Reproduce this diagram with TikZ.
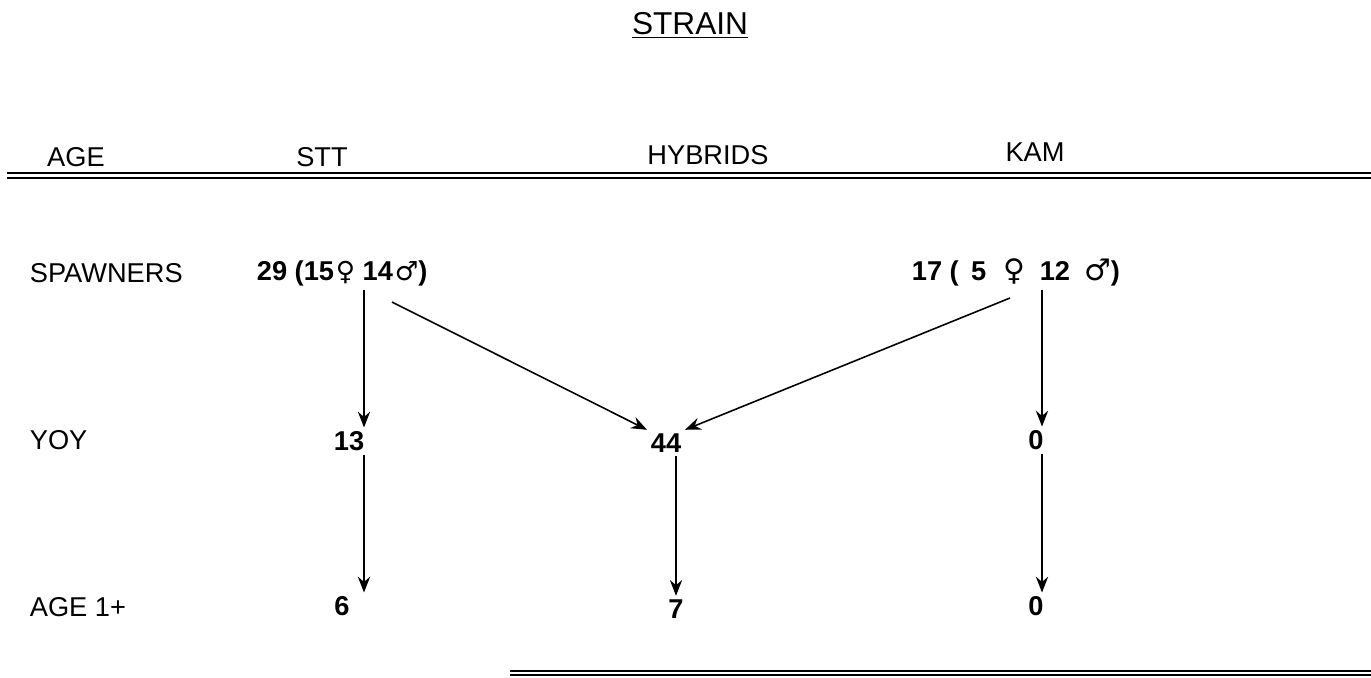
\documentclass[tikz,border=0pt]{standalone}
\usepackage{fontspec}
\setmainfont{Liberation Sans}
\newfontfamily\symfont{DejaVu Sans}
\usetikzlibrary{arrows.meta}
\tikzset{
    lbl/.style={font=\fontsize{15.5}{18}\selectfont, inner sep=2pt},
    num/.style={font=\fontsize{15.5}{18}\selectfont\bfseries, inner sep=2pt},
    arr/.style={-{Stealth[length=9pt, width=7pt, inset=3pt]}, line width=0.9pt},
    dbl/.style={line width=0.8pt}
}
\newcommand{\fem}[1]{{\symfont\mdseries\fontsize{#1}{18}\selectfont ♀}}
\newcommand{\mal}[1]{{\symfont\mdseries\fontsize{#1}{18}\selectfont ♂}}
\begin{document}
\begin{tikzpicture}[x=0.02cm, y=-0.02cm]
    \useasboundingbox (0,0) rectangle (1371,677);
    % heading
    \node[lbl, inner sep=0pt, font=\fontsize{18}{20}\selectfont] (strain) at (690,25) {\underline{STRAIN}};
    \node[lbl] (age) at (76,157) {AGE};
    \node[lbl] (stt) at (322,157) {STT};
    \node[lbl] (hyb) at (708,155) {HYBRIDS};
    \node[lbl] (kam) at (1035,152) {KAM};
    \draw[dbl] (7,173) -- (1371,173)
        (7,178) -- (1371,178);
    % rows
    \node[lbl, anchor=west] (sp) at (26,273) {SPAWNERS};
    \node[num, anchor=west] (sp-stt) at (253,273) {29 (15\hspace{1pt}\fem{15} 14\hspace{1pt}\mal{15})};
    \node[num, anchor=west] (sp-kam) at (908,272) {17 (\hspace{7pt}5\hspace{10pt}\fem{17}\hspace{8pt}12\hspace{8pt}\mal{17})};
    \node[lbl, anchor=west] (yoy) at (26,440) {YOY};
    \node[num] (yoy-stt) at (349,441) {13};
    \node[num] (yoy-hyb) at (666,443) {44};
    \node[num] (yoy-kam) at (1036,440) {0};
    \node[lbl, anchor=west] (a1) at (26,607) {AGE 1+};
    \node[num] (a1-stt) at (342,606) {6};
    \node[num] (a1-hyb) at (676,609) {7};
    \node[num] (a1-kam) at (1036,606) {0};
    % arrows
    \draw[arr] (sp-stt.south -| 364,0) -- (yoy-stt.north -| 364,0);
    \draw[arr] (yoy-stt.south -| 364,0) -- (a1-stt.north -| 364,0);
    \draw[arr] (sp-kam.south -| 1042,0) -- (yoy-kam.north -| 1042,0);
    \draw[arr] (yoy-kam.south -| 1042,0) -- (a1-kam.north -| 1042,0);
    \draw[arr] (yoy-hyb.south -| 676,0) -- (a1-hyb.north -| 676,0);
    \draw[arr] (392,302) -- (yoy-hyb.north west);
    \draw[arr] (1010,298) -- (yoy-hyb.north east);
    \draw[dbl] (510,671) -- (1371,671)
        (510,675) -- (1371,675);
\end{tikzpicture}
\end{document}
